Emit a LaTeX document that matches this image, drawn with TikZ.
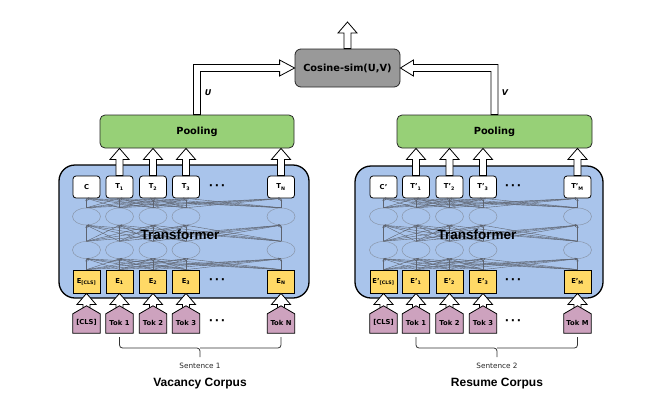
\documentclass[tikz,border=0pt]{standalone}
\usepackage{fontspec}
\setmainfont{DejaVu Sans}
\newfontfamily\libsans{Liberation Sans}
\usetikzlibrary{arrows.meta,shapes.geometric,calc}
\definecolor{poolg}{HTML}{97D077}
\definecolor{tfblue}{HTML}{A9C4EB}
\definecolor{eyel}{HTML}{FFD966}
\definecolor{tokp}{HTML}{CDA2BE}
\definecolor{cosg}{HTML}{999999}
\definecolor{connc}{HTML}{5E6470}
\definecolor{ellc}{HTML}{8A96AA}
\newcommand\blockarrow[2]{%
  \draw[blkarrow] let \p1=(#1), \p2=(#2) in
    (\x1-3.5pt,\y1) -- (\x1-3.5pt,\y2-11pt) -- (\x1-9.5pt,\y2-11pt) -- (\x1,\y2)
    -- (\x1+9.5pt,\y2-11pt) -- (\x1+3.5pt,\y2-11pt) -- (\x1+3.5pt,\y1) -- cycle;}
\newcommand\tokshape[1]{%
  \draw[tokstyle] (#1.south west) -- (#1.north west) -- ($(#1.north)+(0,-8)$)
    -- (#1.north east) -- (#1.south east) -- cycle;}
\begin{document}
\begin{tikzpicture}[x=1pt,y=-1pt,
  blkarrow/.style={draw=black,fill=white,line width=0.8pt,line join=miter},
  tokstyle/.style={draw=black,fill=tokp,line width=0.8pt},
  tfbox/.style={draw=black,fill=tfblue,line width=1.3pt,rounded corners=16pt,inner sep=0pt},
  poolbox/.style={draw=black!85,fill=poolg,line width=0.8pt,rounded corners=5pt,inner sep=0pt,
    minimum height=33pt,font=\fontsize{9.8}{11}\selectfont\bfseries},
  cosbox/.style={draw=black!85,fill=cosg,line width=0.8pt,rounded corners=6pt,inner sep=0pt,
    minimum width=105pt,minimum height=38pt,font=\fontsize{9.8}{11}\selectfont\bfseries},
  tbox/.style={draw=black,fill=white,line width=0.8pt,rounded corners=3pt,inner sep=0pt,
    minimum width=27pt,minimum height=22pt,font=\fontsize{6.8}{7}\selectfont\bfseries},
  ebox/.style={draw=black,fill=eyel,line width=0.8pt,inner sep=0pt,
    minimum width=27pt,minimum height=23pt,font=\fontsize{6.8}{7}\selectfont\bfseries},
  tokn/.style={inner sep=0pt,minimum width=27pt,minimum height=19pt,
    font=\fontsize{6.8}{7}\selectfont\bfseries},
  ell/.style={draw=ellc,ellipse,line width=0.5pt,inner sep=0pt,minimum width=28pt,minimum height=17pt},
  conn/.style={draw=connc,line width=0.4pt,-{Stealth[length=2.6pt,width=2.2pt]}},
  dots/.style={font=\fontsize{11}{12}\selectfont\bfseries},
  tflabel/.style={font=\libsans\fontsize{13.5}{15}\selectfont\bfseries,text=black},
  corpus/.style={font=\libsans\fontsize{12}{14}\selectfont\bfseries},
  sent/.style={font=\fontsize{7.3}{9}\selectfont,text=black!85},
  vlabel/.style={font=\fontsize{8}{9}\selectfont\bfseries\itshape},
  brace/.style={draw=black!80,line width=0.8pt,rounded corners=3pt}
]
\useasboundingbox (0,0) rectangle (665,408);

% transformer boxes
\node[tfbox,minimum width=250pt,minimum height=133pt] (tfL) at (184,231.5) {};
\node[tfbox,minimum width=248pt,minimum height=132pt] (tfR) at (479,232) {};

% pooling and cosine
\node[poolbox,minimum width=194pt] (plL) at (197,131.5) {Pooling};
\node[poolbox,minimum width=195pt] (plR) at (494.5,131.5) {Pooling};
\node[cosbox] (cs) at (347.5,68) {Cosine-sim(U,V)};
\coordinate (outtop) at (347.5,22);

% left column nodes
\foreach \x/\tl/\el [count=\i] in
  {86.5/{C}/{E\textsubscript{[CLS]}},
   119.5/{T\textsubscript{1}}/{E\textsubscript{1}},
   153/{T\textsubscript{2}}/{E\textsubscript{2}},
   186/{T\textsubscript{3}}/{E\textsubscript{3}},
   281/{T\textsubscript{N}}/{E\textsubscript{N}}}{
  \node[tbox] (tL\i) at (\x,187) {\tl};
  \node[ell] (uL\i) at (\x,216.5) {};
  \node[ell] (lL\i) at (\x,250) {};
  \node[ebox] (eL\i) at (\x,281.5) {\el};
  \node[tokn] (kL\i) at (\x,323.5) {};
}
% right column nodes
\foreach \x/\tl/\el [count=\i] in
  {383.5/{C'}/{E'\textsubscript{[CLS]}},
   416/{T'\textsubscript{1}}/{E'\textsubscript{1}},
   449.5/{T'\textsubscript{2}}/{E'\textsubscript{2}},
   483/{T'\textsubscript{3}}/{E'\textsubscript{3}},
   577.5/{T'\textsubscript{M}}/{E'\textsubscript{M}}}{
  \node[tbox] (tR\i) at (\x,187) {\tl};
  \node[ell] (uR\i) at (\x,216.5) {};
  \node[ell] (lR\i) at (\x,250) {};
  \node[ebox] (eR\i) at (\x,281.5) {\el};
  \node[tokn] (kR\i) at (\x,323.5) {};
}

% connections inside transformers
\foreach \s in {L,R}{
  \foreach \i in {1,...,5}{
    \foreach \j in {1,...,5}{
      \draw[conn] (e\s\i.north) -- (l\s\j.south);
      \draw[conn] (l\s\i.north) -- (u\s\j.south);
      \draw[conn] (u\s\i.north) -- (t\s\j.south);
    }
  }
}

% block arrows
\foreach \s in {L,R}{
  \foreach \i in {1,...,5}{
    \blockarrow{k\s\i.north}{e\s\i.south}
  }
  \foreach \i in {2,...,5}{
    \blockarrow{t\s\i.north}{t\s\i.north |- pl\s.south}
  }
}
\blockarrow{cs.north}{outtop}

% token shapes with labels
\foreach \s in {L,R}{
  \foreach \i in {1,...,5}{
    \tokshape{k\s\i}
  }
}
\foreach \i/\kl in {1/{[CLS]},2/{Tok 1},3/{Tok 2},4/{Tok 3},5/{Tok N}}{
  \node[tokn] at ($(kL\i)+(0,-1)$) {\kl};
}
\foreach \i/\kl in {1/{[CLS]},2/{Tok 1},3/{Tok 2},4/{Tok 3},5/{Tok M}}{
  \node[tokn] at ($(kR\i)+(0,-1)$) {\kl};
}

% U and V double-line arrows
\draw[blkarrow] let \p1=(plL.north), \p2=(cs.west) in
  (\x1-3.5pt,\y1) -- (\x1-3.5pt,\y2+3.5pt) -- (\x2-15pt,\y2+3.5pt) -- (\x2-15pt,\y2+8pt)
  -- (\x2,\y2) -- (\x2-15pt,\y2-8pt) -- (\x2-15pt,\y2-3.5pt) -- (\x1+3.5pt,\y2-3.5pt)
  -- (\x1+3.5pt,\y1) -- cycle;
\draw[blkarrow] let \p1=(plR.north), \p2=(cs.east) in
  (\x1+3.5pt,\y1) -- (\x1+3.5pt,\y2+3.5pt) -- (\x2+13pt,\y2+3.5pt) -- (\x2+13pt,\y2+8pt)
  -- (\x2,\y2) -- (\x2+13pt,\y2-8pt) -- (\x2+13pt,\y2-3.5pt) -- (\x1-3.5pt,\y2-3.5pt)
  -- (\x1-3.5pt,\y1) -- cycle;
\node[vlabel] (ulab) at (208,93) {U};
\node[vlabel] (vlab) at (505,93) {V};

% dots
\foreach \y in {187,281.5,322}{
  \node[dots] at (217,\y) {·\,·\,·};
  \node[dots] at (513,\y) {·\,·\,·};
}

% transformer labels
\node[tflabel] (tfLt) at (180,235) {Transformer};
\node[tflabel] (tfRt) at (477,235) {Transformer};

% braces
\draw[brace] (kL2.south |- 0,337) -- (kL2.south |- 0,348) -- (200,348) -- (200,357);
\draw[brace] (kL5.south |- 0,337) -- (kL5.south |- 0,348) -- (200,348);
\draw[brace] (kR2.south |- 0,337) -- (kR2.south |- 0,348) -- (497,348) -- (497,357);
\draw[brace] (kR5.south |- 0,337) -- (kR5.south |- 0,348) -- (497,348);

\node[sent] (s1) at (200,366) {Sentence 1};
\node[sent] (s2) at (497,366) {Sentence 2};
\node[corpus] (c1) at (200,384) {Vacancy Corpus};
\node[corpus] (c2) at (497,384) {Resume Corpus};
\end{tikzpicture}
\end{document}
